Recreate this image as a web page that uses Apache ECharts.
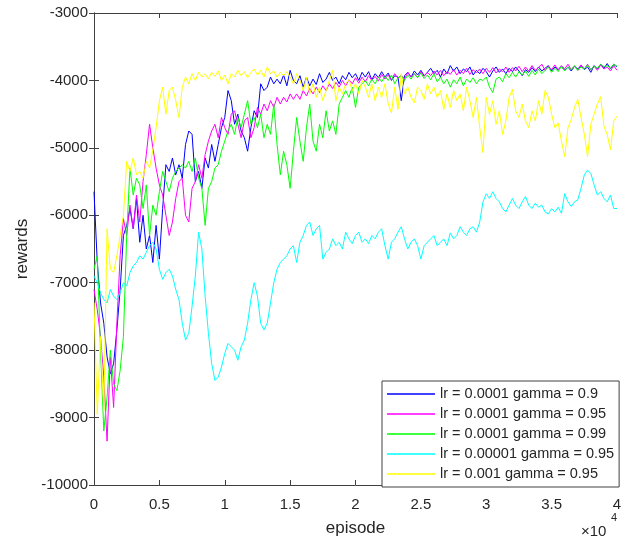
<!DOCTYPE html>
<html>
<head>
<meta charset="utf-8">
<script src="https://cdn.jsdelivr.net/npm/echarts@6/dist/echarts.min.js"></script>
<style>
html,body{margin:0;padding:0;background:#fff}
#main{width:632px;height:542px}
</style>
</head>
<body>
<div id="main"></div>
<script>
// episodes, one point every 250
var episodes = [];
for (var p = 0; p <= 40000; p += 250) {
  episodes.push(p);
}

var seriesNames = [
  'lr = 0.0001 gamma = 0.9',
  'lr = 0.0001 gamma = 0.95',
  'lr = 0.0001 gamma = 0.99',
  'lr = 0.00001 gamma = 0.95',
  'lr = 0.001 gamma = 0.95'
];
var seriesColors = ['#0000ff', '#ff00ff', '#00ff00', '#00ffff', '#ffff00'];

var blueRewards = [
  -5650,-6700,-7300,-7600,-8100,-8350,-8200,-7700,-7100,-6300,
  -6150,-5900,-6200,-5750,-6400,-6000,-6500,-6300,-6700,-6150,
  -6650,-5900,-5250,-5350,-5150,-5400,-5250,-5450,-4950,-4750,
  -4800,-5500,-5350,-5600,-5150,-5300,-4950,-5200,-4950,-4700,
  -4550,-4150,-4300,-4650,-4500,-4750,-4850,-5050,-4700,-4450,
  -4550,-4050,-4150,-4100,-3950,-4050,-3980,-4050,-3920,-4080,
  -3850,-4000,-4050,-3930,-4100,-3950,-4080,-3980,-4060,-3900,
  -4030,-3980,-3880,-4000,-3950,-4050,-3930,-3990,-3880,-3960,
  -3900,-4000,-3880,-3950,-3870,-3990,-3900,-3960,-3870,-3950,
  -3890,-4000,-3930,-3950,-4300,-3930,-3880,-3950,-3860,-3920,
  -3850,-3930,-3880,-3820,-3900,-3850,-3950,-3830,-3900,-3780,
  -3860,-3800,-3900,-3830,-3870,-3800,-3920,-3850,-3900,-3820,
  -3870,-3950,-3860,-3800,-3880,-3830,-3900,-3820,-3870,-3800,
  -3860,-3930,-3840,-3880,-3810,-3870,-3800,-3860,-3820,-3780,
  -3860,-3800,-3840,-3790,-3850,-3800,-3860,-3790,-3830,-3780,
  -3840,-3800,-3880,-3780,-3830,-3760,-3820,-3750,-3830,-3760,
  -3800
];

var magentaRewards = [
  -7100,-7400,-7800,-8400,-9350,-8100,-8850,-7600,-6600,-6050,
  -6300,-5850,-6200,-5700,-6100,-5500,-5100,-4650,-5000,-5300,
  -5550,-5700,-6000,-6300,-6100,-5750,-5500,-5450,-6000,-6100,
  -5600,-5500,-5250,-5450,-5100,-4900,-4750,-4650,-4850,-4550,
  -4700,-4800,-4500,-4450,-4650,-4850,-4600,-4550,-4850,-4700,
  -4400,-4500,-4350,-4450,-4300,-4400,-4250,-4350,-4250,-4320,
  -4200,-4280,-4200,-4280,-4150,-4230,-4120,-4200,-4100,-4180,
  -4080,-4150,-4050,-4120,-4030,-4100,-4000,-4080,-3990,-4050,
  -3960,-4040,-3950,-4020,-3930,-4000,-3940,-4010,-3910,-3980,
  -3920,-3990,-3900,-3970,-3920,-3980,-3880,-3950,-3900,-3960,
  -3870,-3940,-3880,-3930,-3860,-3920,-3850,-3930,-3870,-3910,
  -3840,-3920,-3850,-3900,-3820,-3910,-3840,-3890,-3830,-3900,
  -3820,-3880,-3810,-3890,-3830,-3870,-3800,-3880,-3810,-3860,
  -3790,-3870,-3800,-3860,-3780,-3850,-3810,-3760,-3850,-3790,
  -3840,-3770,-3850,-3780,-3830,-3760,-3840,-3790,-3850,-3770,
  -3830,-3760,-3840,-3790,-3850,-3770,-3830,-3800,-3860,-3780,
  -3850
];

var greenRewards = [
  -6800,-6600,-8000,-9200,-8700,-8000,-8500,-8600,-8300,-7800,
  -6300,-5300,-5700,-5450,-5550,-5900,-5550,-6300,-5850,-6000,
  -5650,-5350,-5500,-5650,-5450,-5350,-5300,-5250,-5300,-5200,
  -5350,-5150,-5450,-5600,-6150,-5600,-5500,-5300,-5250,-5050,
  -4900,-4750,-4650,-4800,-4550,-4700,-4500,-4300,-4650,-4550,
  -4700,-4500,-4850,-4650,-4800,-4350,-4950,-5400,-5050,-5250,
  -5600,-5050,-4550,-4900,-5200,-4700,-4350,-4900,-5050,-4650,
  -4850,-4450,-4750,-4600,-4800,-4350,-4250,-4150,-4250,-4100,
  -4400,-4100,-4050,-4000,-4080,-3980,-4050,-3950,-4020,-3940,
  -4000,-3920,-4050,-3960,-3930,-4000,-3920,-3980,-3900,-3960,
  -3890,-3970,-3920,-3990,-3900,-4020,-3950,-4050,-3980,-4100,
  -3990,-4050,-3950,-4080,-3980,-4030,-3960,-4050,-3980,-4000,
  -3950,-4100,-4180,-3980,-3950,-4020,-3900,-3960,-3880,-3950,
  -3870,-3920,-3860,-3940,-3850,-3920,-3830,-3900,-3850,-3800,
  -3880,-3820,-3870,-3790,-3860,-3800,-3840,-3780,-3850,-3800,
  -3830,-3770,-3840,-3790,-3820,-3760,-3800,-3780,-3820,-3760,
  -3790
];

var cyanRewards = [
  -6900,-7000,-7150,-7250,-7300,-7100,-7200,-7250,-7150,-7000,
  -7050,-6850,-6750,-6700,-6600,-6650,-6550,-6450,-6400,-6500,
  -6800,-6950,-6850,-6800,-6900,-7100,-7250,-7600,-7850,-7750,
  -7350,-6900,-6250,-6500,-7200,-7750,-8200,-8450,-8400,-8250,
  -8050,-7900,-7950,-8000,-8150,-7950,-7850,-7600,-7250,-7000,
  -7200,-7600,-7700,-7600,-7300,-7000,-6800,-6700,-6650,-6600,
  -6500,-6450,-6700,-6400,-6300,-6150,-6100,-6300,-6200,-6150,
  -6650,-6550,-6500,-6350,-6450,-6400,-6500,-6250,-6350,-6420,
  -6300,-6250,-6400,-6350,-6420,-6300,-6350,-6250,-6200,-6450,
  -6650,-6400,-6350,-6250,-6170,-6350,-6500,-6400,-6350,-6450,
  -6650,-6450,-6400,-6350,-6300,-6450,-6400,-6350,-6450,-6260,
  -6350,-6300,-6170,-6250,-6300,-6200,-6170,-6250,-6100,-5800,
  -5680,-5750,-5650,-5750,-5800,-5900,-5950,-5850,-5750,-5850,
  -5900,-5800,-5720,-5850,-5900,-5820,-5880,-5850,-5950,-5980,
  -5900,-5950,-5880,-5970,-5680,-5800,-5870,-5800,-5770,-5600,
  -5400,-5330,-5380,-5550,-5700,-5650,-5750,-5800,-5700,-5900,
  -5900
];

var yellowRewards = [
  -7300,-8950,-7800,-8900,-6200,-6800,-6850,-6600,-6300,-6000,
  -5200,-5350,-5150,-5400,-5350,-5450,-5200,-5300,-5030,-4700,
  -4300,-4100,-4500,-4150,-4100,-4300,-4550,-4100,-3950,-4050,
  -3900,-4000,-3880,-3950,-3900,-3980,-3880,-3940,-3860,-4000,
  -3920,-4050,-3900,-3950,-3850,-3930,-3870,-3960,-3880,-3830,
  -3920,-3850,-3950,-3800,-3900,-3860,-3950,-3880,-3930,-3870,
  -3950,-4050,-3900,-4000,-4150,-3950,-4200,-4050,-4250,-4100,
  -4300,-4150,-4000,-3850,-4300,-4100,-4200,-4050,-3990,-4150,
  -4050,-4200,-4000,-4100,-4250,-4050,-4300,-4100,-4250,-4050,
  -4350,-4480,-4100,-4430,-3900,-4200,-4100,-4250,-4330,-4100,
  -4150,-4280,-4050,-4200,-4100,-4250,-4150,-4430,-4200,-4400,
  -4150,-4300,-4200,-4450,-4100,-4300,-4550,-4250,-4700,-5070,
  -4250,-4500,-4300,-4650,-4450,-4800,-4600,-4250,-4130,-4450,
  -4550,-4350,-4600,-4700,-4450,-4600,-4300,-4500,-4150,-4250,
  -4500,-4700,-4630,-4900,-5130,-4700,-4580,-4400,-4280,-4550,
  -4800,-5130,-4650,-4500,-4350,-4240,-4680,-4800,-5030,-4600,
  -4530
];

var allRewards = [blueRewards, magentaRewards, greenRewards, cyanRewards, yellowRewards];

var axisColor = '#404040';
var textColor = '#262626';
var fontName = 'Liberation Sans';

var myChart = echarts.init(document.getElementById('main'));

var series = [];
for (var s = 0; s < allRewards.length; s++) {
  var pts = [];
  for (var i = 0; i < episodes.length; i++) {
    pts.push([episodes[i], allRewards[s][i]]);
  }
  series.push({
    name: seriesNames[s],
    type: 'line',
    data: pts,
    symbol: 'none',
    lineStyle: { color: seriesColors[s], width: 1 },
    itemStyle: { color: seriesColors[s] },
    z: 2 + s
  });
}

var option = {
  animation: false,
  backgroundColor: '#ffffff',
  grid: { left: 94, right: 15, top: 13, bottom: 57, outerBoundsMode: 'none' },
  legend: {
    data: seriesNames,
    orient: 'vertical',
    left: 382,
    top: 381,
    padding: [5, 5, 5, 5],
    itemGap: 4,
    icon: 'rect',
    itemWidth: 48,
    itemHeight: 1.5,
    backgroundColor: '#ffffff',
    borderColor: axisColor,
    borderWidth: 1,
    borderRadius: 0,
    z: 20,
    textStyle: { fontFamily: fontName, fontSize: 14.5, color: textColor, lineHeight: 16 }
  },
  xAxis: [{
    type: 'value',
    min: 0,
    max: 40000,
    interval: 5000,
    name: 'episode',
    nameLocation: 'middle',
    nameGap: 35,
    nameTextStyle: { fontFamily: fontName, fontSize: 17, color: textColor },
    axisLine: { show: true, lineStyle: { color: axisColor, width: 1 } },
    axisTick: { show: true, inside: true, length: 5, lineStyle: { color: axisColor } },
    splitLine: { show: false },
    axisLabel: {
      fontFamily: fontName, fontSize: 15, color: textColor, margin: 12,
      formatter: function (v) { return String(v / 10000); }
    }
  }, {
    type: 'value',
    position: 'top',
    min: 0,
    max: 40000,
    interval: 5000,
    axisLine: { show: true, lineStyle: { color: axisColor, width: 1 } },
    axisTick: { show: true, inside: true, length: 5, lineStyle: { color: axisColor } },
    axisLabel: { show: false },
    splitLine: { show: false }
  }],
  yAxis: [{
    type: 'value',
    min: -10000,
    max: -3000,
    interval: 1000,
    name: 'rewards',
    nameLocation: 'middle',
    nameGap: 50,
    nameTextStyle: { fontFamily: fontName, fontSize: 17, color: textColor },
    axisLine: { show: true, lineStyle: { color: axisColor, width: 1 } },
    axisTick: { show: true, inside: true, length: 5, lineStyle: { color: axisColor } },
    splitLine: { show: false },
    axisLabel: {
      fontFamily: fontName, fontSize: 15, color: textColor, margin: 6,
      formatter: function (v) { return String(v); }
    }
  }, {
    type: 'value',
    position: 'right',
    min: -10000,
    max: -3000,
    interval: 1000,
    axisLine: { show: true, lineStyle: { color: axisColor, width: 1 } },
    axisTick: { show: true, inside: true, length: 5, lineStyle: { color: axisColor } },
    axisLabel: { show: false },
    splitLine: { show: false }
  }],
  graphic: [{
    type: 'text',
    left: 581,
    top: 524,
    style: { text: '\u00d710', font: '15px "Liberation Sans"', fill: textColor }
  }, {
    type: 'text',
    left: 611,
    top: 512,
    style: { text: '4', font: '11px "Liberation Sans"', fill: textColor }
  }],
  series: series
};
myChart.setOption(option);
</script>
</body>
</html>
